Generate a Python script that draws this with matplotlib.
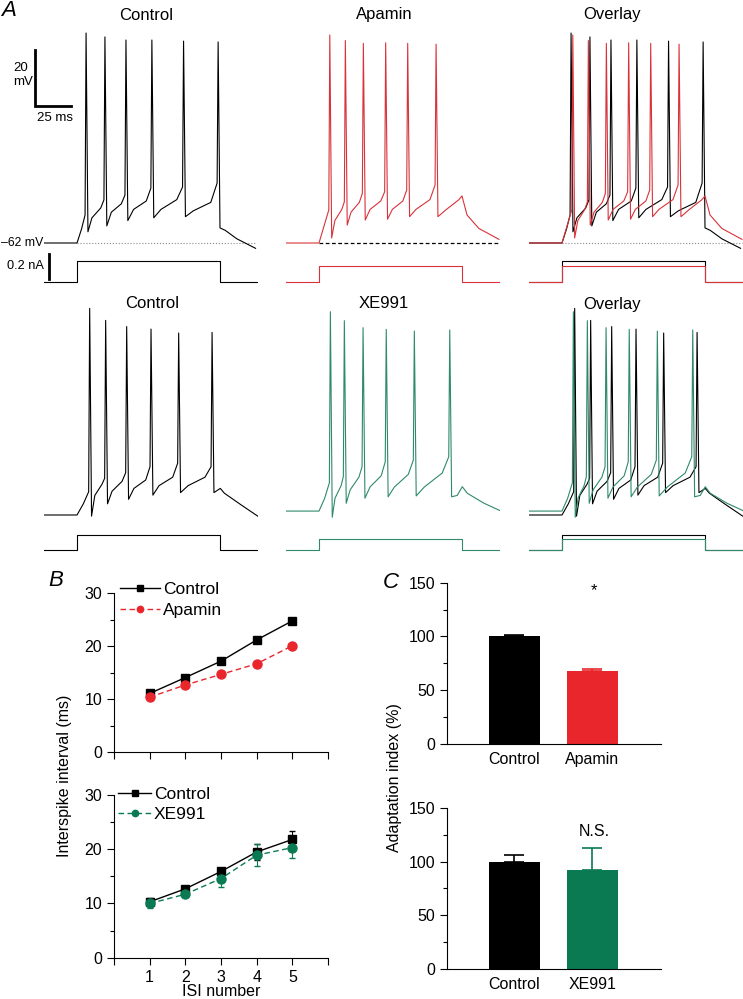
import matplotlib
matplotlib.use('Agg')
import matplotlib.pyplot as plt
from matplotlib.ticker import MultipleLocator

plt.rcParams['font.family'] = ['Liberation Sans', 'DejaVu Sans']

W, H = 743, 999
RED = '#e8262c'
GREEN = '#0a7a52'
RED_TR = '#d8323a'
GREEN_TR = '#2f8a68'

# ---- panel A traces (time in ms from step onset, voltage in mV) ----
# top row control
ca_base, ca_rise = -62.0, -57.0
ca_spk_t = [6.3, 19.4, 34.0, 52.0, 74.0, 98.0]
ca_peak = [13.0, 11.6, 10.5, 10.5, 10.1, 9.8]
ca_thr = [-52.0, -46.6, -44.9, -42.4, -42.0, -40.6]
ca_trough = [-58.0, -55.9, -54.0, -53.0, -52.6, -56.6]
ca_early = [-53.0, -51.0, -50.0, -50.0, -50.5]
ca_late = [-49.5, -48.0, -47.0, -46.5, -47.5]
ca_tail_t = [103.0, 111.0, 124.0]
ca_tail_v = [-57.5, -60.5, -63.9]

# top row apamin
ap_base, ap_rise = -62.0, -55.5
ap_spk_t = [7.5, 18.3, 30.8, 46.3, 61.6, 81.3]
ap_peak = [12.3, 10.3, 9.3, 9.5, 9.3, 9.0]
ap_thr = [-50.2, -47.3, -44.3, -43.7, -43.1, -41.3]
ap_trough = [-60.2, -55.6, -53.8, -53.5, -52.6, -52.6]
ap_early = [-54.0, -51.0, -50.0, -50.0, -50.0]
ap_late = [-50.0, -47.5, -47.0, -47.0, -46.5]
ap_tail_t = [88.0, 97.0, 99.3, 102.8, 111.0, 125.0]
ap_tail_v = [-50.2, -46.6, -45.2, -52.0, -56.8, -60.7]

# bottom row control
cx_base, cx_rise = -62.0, -58.0
cx_spk_t = [8.8, 19.9, 34.5, 51.4, 70.6, 93.8]
cx_peak = [11.8, 7.5, 5.3, 4.4, 3.0, 3.2]
cx_thr = [-53.7, -48.9, -46.9, -44.75, -43.5, -44.75]
cx_trough = [-62.4, -58.0, -56.4, -54.9, -54.0, -54.0]
cx_early = [-55.0, -53.5, -52.5, -51.5, -51.5]
cx_late = [-51.0, -50.0, -49.5, -48.5, -48.5]
cx_tail_t = [99.5, 102.3, 114.0, 125.5]
cx_tail_v = [-52.5, -54.2, -58.4, -62.4]

# bottom row XE991
xe_base, xe_rise = -60.6, -56.0
xe_spk_t = [7.9, 17.6, 30.6, 46.7, 66.2, 90.8]
xe_peak = [10.6, 7.4, 4.9, 4.3, 3.7, 4.1]
xe_thr = [-50.5, -48.3, -44.75, -43.0, -42.4, -41.2]
xe_trough = [-62.8, -57.8, -56.0, -55.5, -55.2, -55.5]
xe_early = [-56.0, -53.0, -52.0, -52.0, -52.0]
xe_late = [-51.5, -48.5, -48.0, -47.5, -47.0]
xe_tail_t = [96.0, 99.5, 103.0, 114.6, 126.0]
xe_tail_v = [-55.0, -51.9, -54.25, -57.8, -60.5]

# injected current steps (nA)
step_on, step_off = 0.0, 99.0
ca_amp, ap_amp, cx_amp, xe_amp = 0.17, 0.13, 0.12, 0.09

# ---- panel B ----
isi = [1, 2, 3, 4, 5]
b_ctl_a = [11.1, 14.1, 17.2, 21.2, 24.8]
b_ctl_a_err = [0.3, 0.3, 0.3, 0.3, 0.3]
b_apa = [10.4, 12.7, 14.7, 16.7, 20.1]
b_apa_err = [0.3, 0.3, 0.3, 0.3, 0.3]
b_ctl_x = [10.3, 12.7, 15.9, 19.5, 21.8]
b_ctl_x_err = [0.8, 0.5, 0.6, 1.5, 1.6]
b_xe = [10.0, 11.7, 14.6, 18.9, 20.3]
b_xe_err = [0.8, 0.5, 1.5, 2.0, 2.0]

# ---- panel C ----
c_labels_a = ['Control', 'Apamin']
c_vals_a = [100, 68]
c_err_a = [1.5, 1.3]
c_labels_x = ['Control', 'XE991']
c_vals_x = [100, 92]
c_err_x = [6.5, 21]


def build_trace(base, rise, spk_t, peak, thr, trough, early, late, tail_t, tail_v):
    t = [-23.0, step_on, spk_t[0] * 0.5]
    v = [base, base, rise]
    n = len(spk_t)
    for i in range(n):
        t += [spk_t[i] - 0.7, spk_t[i], spk_t[i] + 1.3]
        v += [thr[i], peak[i], trough[i]]
        if i < n - 1:
            a = spk_t[i] + 1.3
            b = spk_t[i + 1] - 0.7
            t += [a + 0.25 * (b - a), a + 0.8 * (b - a)]
            v += [early[i], late[i]]
    return t + list(tail_t), v + list(tail_v)


def current(amp):
    return [-23.0, step_on, step_on, step_off, step_off, 125.0], [0, 0, amp, amp, 0, 0]


ca = build_trace(ca_base, ca_rise, ca_spk_t, ca_peak, ca_thr, ca_trough, ca_early, ca_late, ca_tail_t, ca_tail_v)
ap = build_trace(ap_base, ap_rise, ap_spk_t, ap_peak, ap_thr, ap_trough, ap_early, ap_late, ap_tail_t, ap_tail_v)
cx = build_trace(cx_base, cx_rise, cx_spk_t, cx_peak, cx_thr, cx_trough, cx_early, cx_late, cx_tail_t, cx_tail_v)
xe = build_trace(xe_base, xe_rise, xe_spk_t, xe_peak, xe_thr, xe_trough, xe_early, xe_late, xe_tail_t, xe_tail_v)

fig = plt.figure(figsize=(W / 100, H / 100), dpi=100)


def px_axes(left, top, width, height):
    return fig.add_axes([left / W, 1 - (top + height) / H, width / W, height / H])


def px_text(x, y, s, **kw):
    fig.text(x / W, 1 - y / H, s, **kw)


MS, MV, NA = 1.44, 2.8, 125.0
onsets = [77, 319, 562]
v_tops = [243 - 77 * MV, 515 - 77 * MV]
i_bases = [282, 550]


def v_axes(row, col):
    ax = px_axes(onsets[col] - 23 * MS, v_tops[row], 149 * MS, 81 * MV)
    ax.set_xlim(-23, 126)
    ax.set_ylim(-66, 15)
    ax.axis('off')
    return ax


def i_axes(row, col):
    ax = px_axes(onsets[col] - 23 * MS, i_bases[row] - 0.25 * NA, 149 * MS, 0.3 * NA)
    ax.set_xlim(-23, 126)
    ax.set_ylim(-0.05, 0.25)
    ax.axis('off')
    return ax


lw = 0.8
# top row
ax = v_axes(0, 0)
ax.plot([0, 124], [-62, -62], ls=':', color='#888888', lw=0.8)
ax.plot(*ca, color='k', lw=lw)
ax.plot([-29.2, -29.2, -4.2], [6.9, -13.1, -13.1], color='k', lw=2, clip_on=False,
        solid_joinstyle='miter')
ax.text(-44.4, -2, '20\nmV', ha='left', va='center', fontsize=9.5, linespacing=1.15)
ax.text(-15.3, -17.4, '25 ms', ha='center', va='center', fontsize=9.5)
ax.text(-23.4, -62, '\u201362 mV', ha='right', va='center', fontsize=8.8)
axi = i_axes(0, 0)
axi.plot(*current(ca_amp), color='k', lw=lw)
axi.plot([-19.4, -19.4], [0.024, 0.224], color='k', lw=2, clip_on=False)
axi.text(-22.9, 0.128, '0.2 nA', ha='right', va='center', fontsize=9.2)

ax = v_axes(0, 1)
ax.plot([0, 124], [-62, -62], ls='--', dashes=(3, 2), color='k', lw=0.9)
ax.plot(*ap, color=RED_TR, lw=lw)
axi = i_axes(0, 1)
axi.plot(*current(ap_amp), color=RED_TR, lw=lw)

ax = v_axes(0, 2)
ax.plot([0, 125], [-62, -62], ls=':', color='#888888', lw=0.8)
ax.plot(*ca, color='k', lw=lw)
ax.plot(*ap, color=RED_TR, lw=lw)
axi = i_axes(0, 2)
axi.plot(*current(ca_amp), color='k', lw=lw)
axi.plot(*current(ap_amp), color=RED_TR, lw=lw)

# bottom row
ax = v_axes(1, 0)
ax.plot(*cx, color='k', lw=lw)
axi = i_axes(1, 0)
axi.plot(*current(cx_amp), color='k', lw=lw)

ax = v_axes(1, 1)
ax.plot(*xe, color=GREEN_TR, lw=lw)
axi = i_axes(1, 1)
axi.plot(*current(xe_amp), color=GREEN_TR, lw=lw)

ax = v_axes(1, 2)
ax.plot(*cx, color='k', lw=lw)
ax.plot(*xe, color=GREEN_TR, lw=lw)
axi = i_axes(1, 2)
axi.plot(*current(cx_amp), color='k', lw=lw)
axi.plot(*current(xe_amp), color=GREEN_TR, lw=lw)

# titles
for x, y, s in [(146, 15, 'Control'), (384, 15, 'Apamin'), (612, 15, 'Overlay'),
                (152, 304, 'Control'), (384, 304, 'XE991'), (612, 305, 'Overlay')]:
    px_text(x, y, s, ha='center', va='center', fontsize=12)

px_text(1, 10, 'A', ha='left', va='center', fontsize=16, style='italic')
px_text(48, 580, 'B', ha='left', va='center', fontsize=16, style='italic')
px_text(383, 582, 'C', ha='left', va='center', fontsize=16, style='italic')


# ---- panel B ----
def style_b(ax, show_x):
    ax.set_xlim(0, 6)
    ax.set_ylim(0, 30)
    ax.spines['top'].set_visible(False)
    ax.spines['right'].set_visible(False)
    ax.yaxis.set_major_locator(MultipleLocator(10))
    ax.yaxis.set_minor_locator(MultipleLocator(5))
    ax.set_xticks(range(0, 7))
    ax.set_xticklabels(['', '1', '2', '3', '4', '5', ''] if show_x else [''] * 7)
    ax.tick_params(labelsize=11.5, length=5, width=0.8, direction='out')
    ax.tick_params(which='minor', length=3, width=0.8)
    ax.patch.set_alpha(0)


axb1 = px_axes(114, 593.3, 214, 159)
axb1.errorbar(isi, b_ctl_a, yerr=b_ctl_a_err, fmt='none', ecolor='k', capsize=2, lw=0.8)
axb1.errorbar(isi, b_apa, yerr=b_apa_err, fmt='none', ecolor=RED, capsize=2, lw=0.8)
axb1.plot(isi, b_ctl_a, '-s', color='k', ms=6, lw=1, label='Control')
axb1.plot(isi, b_apa, '--o', color=RED, ms=6.5, lw=1, dashes=(4, 2.5), label='Apamin')
style_b(axb1, False)
axb1.legend(loc='upper left', bbox_to_anchor=(0.03, 1.07), frameon=False, fontsize=12.5,
            handlelength=2.3, handletextpad=0.15, borderpad=0, borderaxespad=0,
            labelspacing=0.3, markerscale=0.7)

axb2 = px_axes(114, 795, 214, 162.7)
axb2.errorbar(isi, b_ctl_x, yerr=b_ctl_x_err, fmt='none', ecolor='k', capsize=2, lw=0.8)
axb2.errorbar(isi, b_xe, yerr=b_xe_err, fmt='none', ecolor=GREEN, capsize=2, lw=0.8)
axb2.plot(isi, b_ctl_x, '-s', color='k', ms=6, lw=1, label='Control')
axb2.plot(isi, b_xe, '--o', color=GREEN, ms=6.5, lw=1, dashes=(4, 2.5), label='XE991')
style_b(axb2, True)
axb2.legend(loc='upper left', bbox_to_anchor=(0.02, 1.05), frameon=False, fontsize=12.5,
            handlelength=1.9, handletextpad=0.15, borderpad=0, borderaxespad=0,
            labelspacing=0.3, markerscale=0.7)

px_text(64, 776, 'Interspike interval (ms)', rotation=90, ha='center', va='center', fontsize=11.5)
px_text(221, 991, 'ISI number', ha='center', va='center', fontsize=11.5)


# ---- panel C ----
def bars_c(ax, labels, vals, errs, colors):
    x = [1, 2]
    ax.bar(x, vals, width=0.654, color=colors, zorder=2)
    for xi, v, e, c in zip(x, vals, errs, colors):
        ax.errorbar([xi], [v], yerr=[[0], [e]], fmt='none', ecolor=c, capsize=7.5,
                    elinewidth=1.2, capthick=1.2, zorder=1)
    ax.set_xlim(0.14, 2.88)
    ax.set_ylim(0, 150)
    ax.set_xticks(x)
    ax.set_xticklabels(labels)
    ax.spines['top'].set_visible(False)
    ax.spines['right'].set_visible(False)
    ax.yaxis.set_major_locator(MultipleLocator(50))
    ax.yaxis.set_minor_locator(MultipleLocator(25))
    ax.tick_params(axis='y', labelsize=11.5, length=5, width=0.8)
    ax.tick_params(axis='y', which='minor', length=3, width=0.8)
    ax.tick_params(axis='x', labelsize=11.5, length=0, pad=6)
    ax.patch.set_alpha(0)


axc1 = px_axes(447.3, 582.7, 213.7, 161.3)
bars_c(axc1, c_labels_a, c_vals_a, c_err_a, ['k', RED])
axc2 = px_axes(447.3, 808.3, 213.7, 160.4)
bars_c(axc2, c_labels_x, c_vals_x, c_err_x, ['k', GREEN])

px_text(594, 591, '*', ha='center', va='center', fontsize=12)
px_text(594, 831, 'N.S.', ha='center', va='center', fontsize=11.5)
px_text(395, 778, 'Adaptation index (%)', rotation=90, ha='center', va='center', fontsize=11.5)

fig.savefig('out.png', dpi=100)
